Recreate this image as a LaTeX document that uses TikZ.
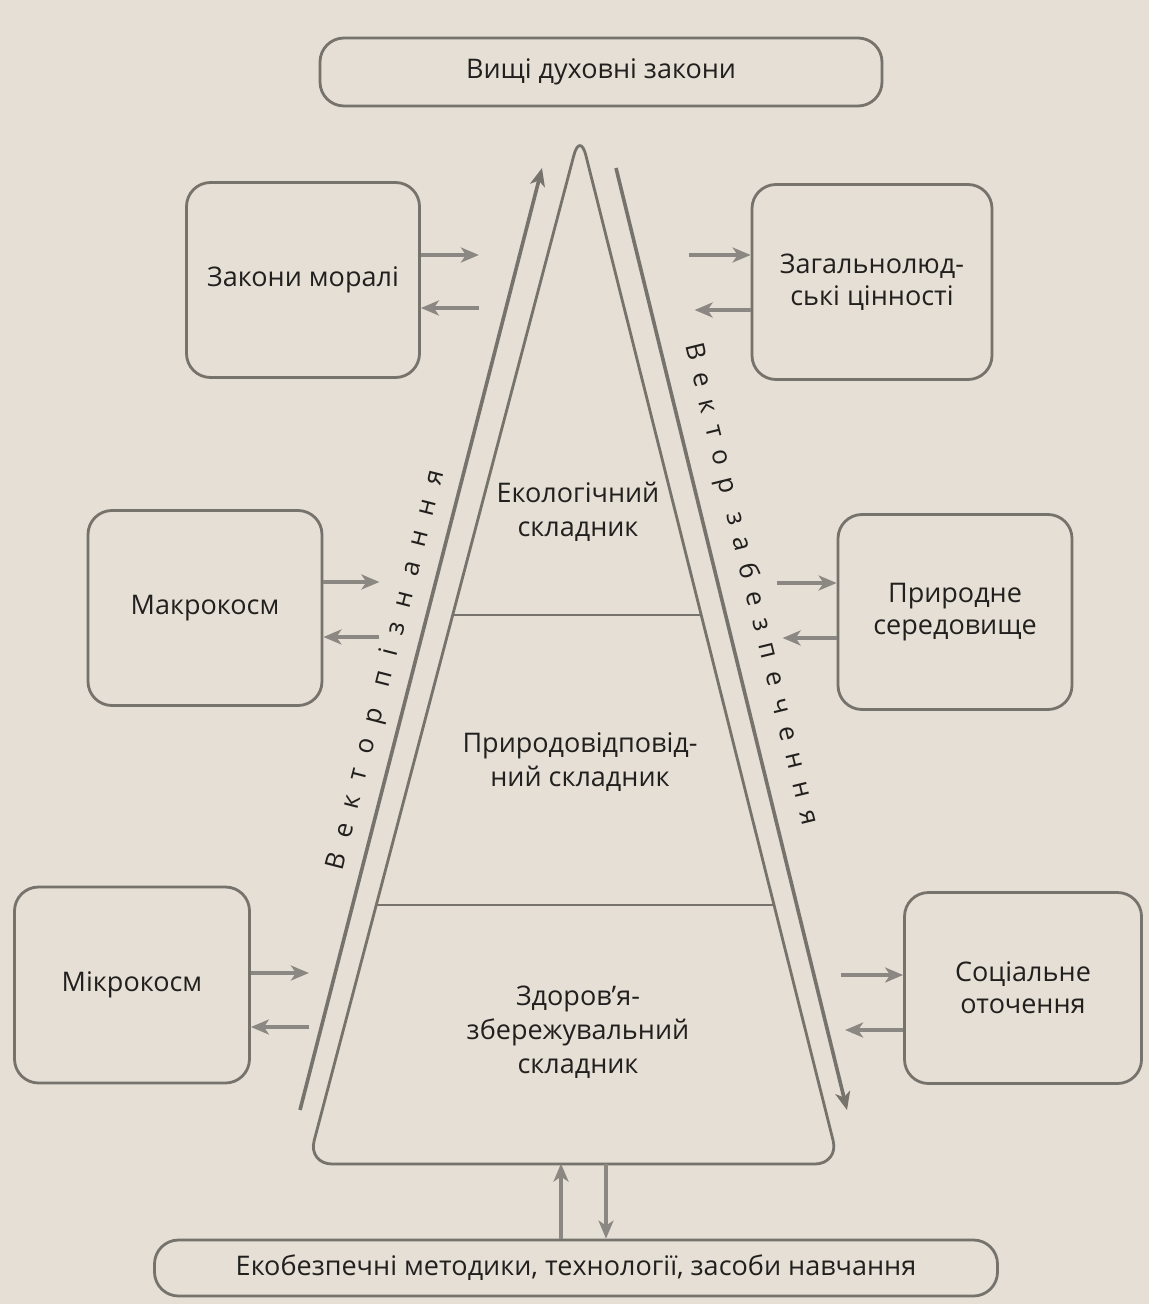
\documentclass[tikz,border=0pt]{standalone}
\usepackage{fontspec}
\setmainfont{Open Sans}
\usetikzlibrary{arrows.meta,calc}
\definecolor{paper}{RGB}{229,223,213}
\definecolor{ink}{RGB}{118,114,108}
\definecolor{txt}{RGB}{34,32,30}

\begin{document}
\begin{tikzpicture}[x=0.5pt,y=-0.5pt,
  box/.style={draw=ink,line width=1.4pt,rounded corners=12pt,align=center,
    inner sep=0pt,text=txt,font=\fontsize{13.5}{16}\selectfont},
  lbl/.style={text=txt,align=center,font=\fontsize{13.5}{17}\selectfont},
  vec/.style={text=txt,font=\fontsize{13}{15}\selectfont\addfontfeatures{LetterSpace=#1}},
  arr/.style={draw=ink!85,line width=1.8pt,-{Stealth[length=9pt,width=7.5pt,inset=2.5pt]}}]
\fill[paper] (0,0) rectangle (1149,1304);
\useasboundingbox (0,0) rectangle (1149,1304);

\node[box,minimum width=281pt,minimum height=34pt] (top) at (601,72) {Вищі духовні закони};
\node[box,minimum width=116.5pt,minimum height=97.5pt] (moral) at (303,280) {Закони моралі};
\node[box,minimum width=120pt,minimum height=97.5pt] (values) at (872,282) {Загальнолюд-\\ські цінності};
\node[box,minimum width=117pt,minimum height=97.5pt] (macro) at (205,608) {Макрокосм};
\node[box,minimum width=117pt,minimum height=97.5pt] (nature) at (955,612) {Природне\\середовище};
\node[box,minimum width=117.5pt,minimum height=98pt] (micro) at (132,985) {Мікрокосм};
\node[box,minimum width=118.5pt,minimum height=95.5pt] (social) at (1023,988) {Соціальне\\оточення};
\node[box,minimum width=421.5pt,minimum height=28pt] (tools) at (576,1268) {Екобезпечні методики, технології, засоби навчання};

% the pyramid
\coordinate (apex) at (580,132);
\coordinate (bl) at (308,1164);
\coordinate (br) at (839,1164);
\draw[ink,line width=1.4pt,rounded corners=12pt] (apex) -- (br) -- (bl) -- cycle;
\draw[ink,line width=1.4pt]
  ($(apex)!0.468!(bl)$) -- ($(apex)!0.468!(br)$)
  ($(apex)!0.749!(bl)$) -- ($(apex)!0.749!(br)$);
\node[lbl] (eco) at (578,512) {Екологічний\\складник};
\node[lbl] (natural) at (580,762) {Природовідповід-\\ний складник};
\node[lbl] (health) at (578,1032) {Здоров’я-\\збережувальний\\складник};

% vectors along the sides
\coordinate (pz1) at (300,1110);
\coordinate (pz2) at (542,168);
\coordinate (zb1) at (616,168);
\coordinate (zb2) at (847,1110);
\draw[arr,draw=ink] (pz1) -- node[vec=60,sloped,above=2pt,pos=0.46] {Вектор пізнання} (pz2);
\draw[arr,draw=ink] (zb1) -- node[vec=50,sloped,above=5pt,pos=0.45] {Вектор забезпечення} (zb2);

\draw[arr] ([yshift=12.5pt]moral.east) -- ++(29pt,0);
\draw[arr] ([xshift=29pt,yshift=-14pt]moral.east) -- ([yshift=-14pt]moral.east);
\draw[arr] ([xshift=-31pt,yshift=13.5pt]values.west) -- ([yshift=13.5pt]values.west);
\draw[arr] ([yshift=-14pt]values.west) -- ++(-28pt,0);
\draw[arr] ([yshift=13pt]macro.east) -- ++(28pt,0);
\draw[arr] ([xshift=28pt,yshift=-14.5pt]macro.east) -- ([yshift=-14.5pt]macro.east);
\draw[arr] ([xshift=-30pt,yshift=14.5pt]nature.west) -- ([yshift=14.5pt]nature.west);
\draw[arr] ([yshift=-13pt]nature.west) -- ++(-27pt,0);
\draw[arr] ([yshift=6pt]micro.east) -- ++(29pt,0);
\draw[arr] ([xshift=29pt,yshift=-21pt]micro.east) -- ([yshift=-21pt]micro.east);
\draw[arr] ([xshift=-31pt,yshift=6.5pt]social.west) -- ([yshift=6.5pt]social.west);
\draw[arr] ([yshift=-21pt]social.west) -- ++(-29pt,0);
\draw[arr] ([xshift=-7.5pt]tools.north) -- ++(0,37.5pt);
\draw[arr] ([xshift=15pt,yshift=37.5pt]tools.north) -- ([xshift=15pt]tools.north);
\end{tikzpicture}
\end{document}
